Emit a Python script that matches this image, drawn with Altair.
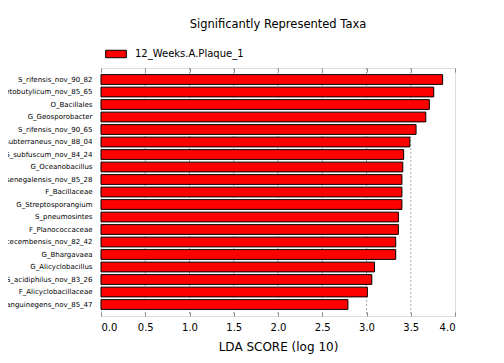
import altair as alt
import pandas as pd

taxa = [
    "S_rifensis_nov_90_82",
    "S_acetobutylicum_nov_85_65",
    "O_Bacillales",
    "G_Geosporobacter",
    "S_rifensis_nov_90_65",
    "S_subterraneus_nov_88_04",
    "S_subfuscum_nov_84_24",
    "G_Oceanobacillus",
    "S_senegalensis_nov_85_28",
    "F_Bacillaceae",
    "G_Streptosporangium",
    "S_pneumosintes",
    "F_Planococcaceae",
    "S_cecembensis_nov_82_42",
    "G_Bhargavaea",
    "G_Alicyclobacillus",
    "S_acidiphilus_nov_83_26",
    "F_Alicyclobacillaceae",
    "S_sanguinegens_nov_85_47",
]
scores = [3.86, 3.76, 3.71, 3.67, 3.56, 3.49, 3.42, 3.41, 3.40, 3.40, 3.40,
          3.36, 3.36, 3.33, 3.33, 3.09, 3.06, 3.01, 2.79]
group = "12_Weeks.A.Plaque_1"
tick_values = [0.0, 0.5, 1.0, 1.5, 2.0, 2.5, 3.0, 3.5, 4.0]
grid_values = [0.5, 1.0, 1.5, 2.0, 2.5, 3.0, 3.5]

df = pd.DataFrame({"taxon": taxa, "score": scores, "group": [group] * len(taxa)})
grid_df = pd.DataFrame({"g": grid_values})

FONT = "DejaVu Sans"
xscale = alt.Scale(domain=[0, 4.0], nice=False, zero=True)

grid = alt.Chart(grid_df).mark_rule(color="#aaaaaa", strokeDash=[2, 2], strokeWidth=1).encode(
    x=alt.X("g:Q", scale=xscale,
            axis=alt.Axis(orient="top", labels=False, domain=False, grid=False,
                          values=tick_values, tickSize=4, offset=-4,
                          tickColor="#888888", title=None))
)

bars = alt.Chart(df).mark_bar(stroke="black", strokeWidth=1).encode(
    y=alt.Y("taxon:N", sort=taxa,
            scale=alt.Scale(paddingInner=0.22, paddingOuter=0.53),
            axis=alt.Axis(title=None, domain=False, ticks=False, labelPadding=9,
                          labelFontSize=7, labelFont=FONT, labelColor="black",
                          labelLimit=0)),
    x=alt.X("score:Q", scale=xscale,
            axis=alt.Axis(orient="bottom", domain=False, grid=False,
                          values=tick_values, format=".1f", tickSize=4, offset=-4,
                          tickColor="#888888", labelPadding=6, labelFontSize=10,
                          labelFont=FONT, labelColor="black",
                          title="LDA SCORE (log 10)", titleFont=FONT,
                          titleFontSize=12, titleFontWeight="normal",
                          titleColor="black", titlePadding=9)),
    color=alt.Color("group:N",
                    scale=alt.Scale(domain=[group], range=["#ff0000"]),
                    legend=alt.Legend(title=None, orient="none", legendX=4, legendY=-25,
                                      symbolType="M-1,-0.36L1,-0.36L1,0.36L-1,0.36Z",
                                      symbolSize=428, symbolStrokeColor="black",
                                      symbolStrokeWidth=1, symbolOpacity=1,
                                      labelFont=FONT, labelFontSize=10,
                                      labelColor="black", padding=0, labelOffset=8)),
)

chart = alt.layer(grid, bars).resolve_axis(x="independent").properties(
    width=354,
    height=248,
    title=alt.TitleParams("Significantly Represented Taxa", font=FONT, fontSize=11.5,
                          fontWeight="normal", color="black", offset=13),
    autosize=alt.AutoSizeParams(type="none"),
    padding={"left": 93, "top": 60, "right": 40, "bottom": 40},
).configure_view(stroke=None).configure(background="white")

chart.save("out.html", embed_options={"renderer": "svg", "actions": False})
